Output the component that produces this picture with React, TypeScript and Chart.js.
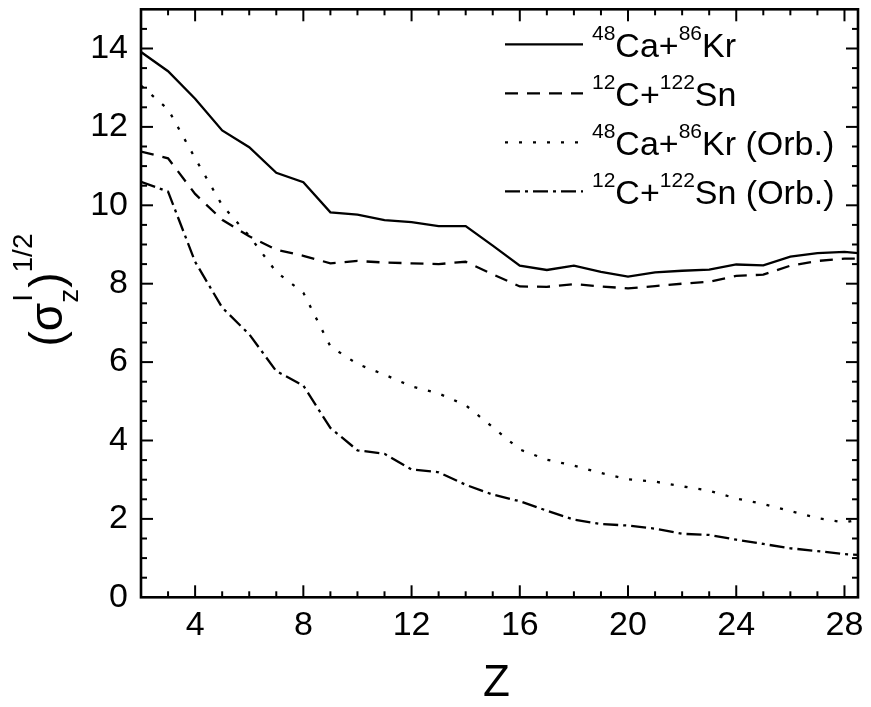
import { useEffect, useRef } from 'react';
import { Chart, registerables } from 'chart.js';
Chart.register(...registerables);

// ---- data ----
const zValues = [2, 3, 4, 5, 6, 7, 8, 9, 10, 11, 12, 13, 14, 15, 16, 17, 18, 19, 20, 21, 22, 23, 24, 25, 26, 27, 28, 29];
const caKr = [13.91, 13.42, 12.72, 11.91, 11.48, 10.83, 10.59, 9.82, 9.76, 9.62, 9.57, 9.47, 9.47, 8.97, 8.46, 8.35, 8.46, 8.30, 8.18, 8.29, 8.33, 8.36, 8.49, 8.47, 8.69, 8.78, 8.81, 8.75];
const cSn = [11.37, 11.2, 10.29, 9.63, 9.21, 8.87, 8.71, 8.52, 8.58, 8.54, 8.52, 8.50, 8.56, 8.24, 7.93, 7.92, 7.99, 7.93, 7.88, 7.94, 8.0, 8.05, 8.2, 8.23, 8.46, 8.58, 8.64, 8.64];
const caKrOrb = [13.05, 12.45, 11.2, 10.0, 9.22, 8.3, 7.77, 6.4, 5.95, 5.68, 5.38, 5.2, 4.9, 4.34, 3.77, 3.51, 3.36, 3.17, 3.01, 2.95, 2.83, 2.72, 2.52, 2.38, 2.2, 2.02, 1.91, 2.05];
const cSnOrb = [10.6, 10.35, 8.56, 7.39, 6.71, 5.77, 5.40, 4.32, 3.75, 3.66, 3.26, 3.19, 2.87, 2.62, 2.45, 2.21, 1.98, 1.87, 1.83, 1.75, 1.62, 1.59, 1.47, 1.36, 1.25, 1.18, 1.10, 1.06];

const xTickValues = [4, 8, 12, 16, 20, 24, 28];
const yTickValues = [0, 2, 4, 6, 8, 10, 12, 14];

type Seg = { t: string; sup?: boolean };
const legendLabels: Seg[][] = [
  [{ t: '48', sup: true }, { t: 'Ca+' }, { t: '86', sup: true }, { t: 'Kr' }],
  [{ t: '12', sup: true }, { t: 'C+' }, { t: '122', sup: true }, { t: 'Sn' }],
  [{ t: '48', sup: true }, { t: 'Ca+' }, { t: '86', sup: true }, { t: 'Kr (Orb.)' }],
  [{ t: '12', sup: true }, { t: 'C+' }, { t: '122', sup: true }, { t: 'Sn (Orb.)' }],
];
const seriesValues = [caKr, cSn, caKrOrb, cSnOrb];
const seriesDashes = [[], [13, 9], [3, 11], [15, 5, 3, 5]];

const xTitle = 'Z';
const FONT = '"Liberation Sans", Arial, sans-serif';

const decorPlugin = {
  id: 'decor',
  afterDraw(chart: any) {
    const { ctx, chartArea } = chart;
    const { left, right, top, bottom } = chartArea;
    const xs = chart.scales.x;
    const ys = chart.scales.y;
    ctx.save();
    ctx.strokeStyle = '#000';
    ctx.fillStyle = '#000';
    ctx.setLineDash([]);
    ctx.lineCap = 'butt';
    ctx.lineWidth = 2;
    const seg = (x1: number, y1: number, x2: number, y2: number) => {
      ctx.beginPath();
      ctx.moveTo(x1, y1);
      ctx.lineTo(x2, y2);
      ctx.stroke();
    };
    // x ticks (major every 4, minor every 1), inward on bottom and top
    for (let v = 3; v <= 28; v++) {
      const px = xs.getPixelForValue(v);
      const len = v % 4 === 0 ? 12 : 6;
      seg(px, bottom, px, bottom - len);
      seg(px, top, px, top + len);
    }
    // y ticks (major every 2, minor every 0.5)
    for (let k = 1; k < 30; k++) {
      const v = k * 0.5;
      const py = ys.getPixelForValue(v);
      const len = k % 4 === 0 ? 12 : 6;
      seg(left, py, left + len, py);
      seg(right, py, right - len, py);
    }
    // frame
    ctx.lineWidth = 2.6;
    ctx.strokeRect(left, top, right - left, bottom - top);

    // legend
    const mainSize = 34;
    const supSize = 21;
    for (let i = 0; i < legendLabels.length; i++) {
      const base = 49 + i * 49;
      const ly = base - 12.7;
      ctx.lineWidth = 2.3;
      ctx.setLineDash(seriesDashes[i]);
      seg(497, ly, 575, ly);
      ctx.setLineDash([]);
      let x = 584;
      ctx.textBaseline = 'alphabetic';
      ctx.textAlign = 'left';
      for (const s of legendLabels[i]) {
        const size = s.sup ? supSize : mainSize;
        ctx.font = `${size}px ${FONT}`;
        ctx.fillText(s.t, x, s.sup ? base - 17 : base);
        x += ctx.measureText(s.t).width;
      }
    }

    // x title
    ctx.font = `44px ${FONT}`;
    ctx.textAlign = 'center';
    ctx.textBaseline = 'alphabetic';
    ctx.fillText(xTitle, (left + right) / 2 - 3, 688);

    // y title: (σ_z^I)^{1/2}
    ctx.save();
    ctx.translate(54, 282);
    ctx.rotate(-Math.PI / 2);
    ctx.textAlign = 'left';
    const big = `46px ${FONT}`;
    const small = `28px ${FONT}`;
    ctx.font = big;
    const wOpen = ctx.measureText('(σ').width;
    const wClose = ctx.measureText(')').width;
    ctx.font = small;
    const wI = ctx.measureText('I').width;
    const wz = ctx.measureText('z').width;
    const wHalf = ctx.measureText('1/2').width;
    const wStack = Math.max(wI, wz) + 1;
    const total = wOpen + wStack + wClose + wHalf;
    let x = -total / 2;
    ctx.font = big;
    ctx.fillText('(σ', x, 0);
    x += wOpen;
    ctx.font = small;
    ctx.fillText('I', x + 1, -30);
    ctx.fillText('z', x, 16);
    x += wStack;
    ctx.font = big;
    ctx.fillText(')', x, 0);
    x += wClose;
    ctx.font = small;
    ctx.fillText('1/2', x, -30);
    ctx.restore();

    ctx.restore();
  },
};

export default function App() {
  const ref = useRef<HTMLCanvasElement | null>(null);
  useEffect(() => {
    if (!ref.current) return;
    const chart = new Chart(ref.current, {
      type: 'line',
      data: {
        datasets: seriesValues.map((vals, i) => ({
          label: legendLabels[i].map((s) => s.t).join(''),
          data: zValues.map((z, j) => ({ x: z, y: vals[j] })),
          borderColor: '#000',
          backgroundColor: '#000',
          borderWidth: 2.3,
          borderDash: seriesDashes[i],
          pointRadius: 0,
          tension: 0,
          fill: false,
        })),
      },
      options: {
        animation: false,
        responsive: true,
        maintainAspectRatio: false,
        layout: { padding: { left: 0, top: 1.3, right: 5, bottom: 0 } },
        plugins: { legend: { display: false }, tooltip: { enabled: false } },
        scales: {
          x: {
            type: 'linear',
            min: 2,
            max: 28.5,
            grid: { display: false, drawTicks: false },
            border: { display: false },
            afterBuildTicks: (s: any) => {
              s.ticks = xTickValues.map((v) => ({ value: v }));
            },
            afterFit: (s: any) => {
              s.height = 101.7;
              s.paddingLeft = 0;
              s.paddingRight = 0;
            },
            ticks: {
              autoSkip: false,
              maxRotation: 0,
              minRotation: 0,
              padding: 8,
              color: '#000',
              font: { family: FONT, size: 34 },
            },
          },
          y: {
            type: 'linear',
            min: 0,
            max: 15,
            grid: { display: false, drawTicks: false },
            border: { display: false },
            afterBuildTicks: (s: any) => {
              s.ticks = yTickValues.map((v) => ({ value: v }));
            },
            afterFit: (s: any) => {
              s.width = 133;
              s.paddingTop = 0;
              s.paddingBottom = 0;
            },
            ticks: {
              autoSkip: false,
              padding: 13,
              color: '#000',
              font: { family: FONT, size: 34 },
            },
          },
        },
      },
      plugins: [decorPlugin],
    });
    return () => chart.destroy();
  }, []);
  return (
    <div style={{ position: 'relative', width: 855, height: 691, background: '#fff' }}>
      <canvas ref={ref} />
    </div>
  );
}
